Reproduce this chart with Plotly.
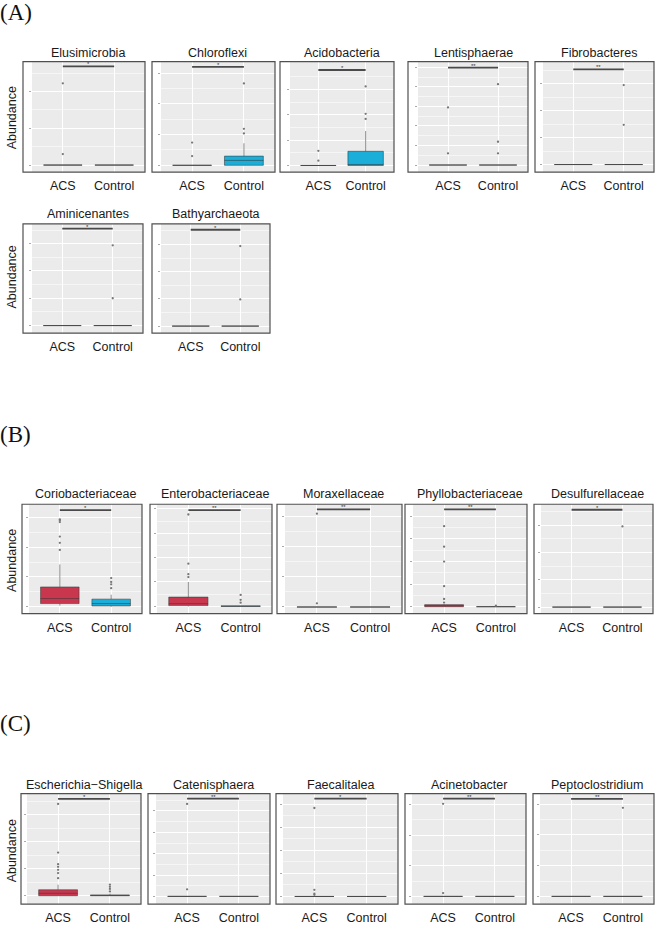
import plotly.graph_objects as go

W, H = 655, 925

# ---------------- data (arbitrary abundance units) ----------------
taxa = ["Elusimicrobia", "Chloroflexi", "Acidobacteria", "Lentisphaerae", "Fibrobacteres",
        "Aminicenantes", "Bathyarchaeota",
        "Coriobacteriaceae", "Enterobacteriaceae", "Moraxellaceae", "Phyllobacteriaceae", "Desulfurellaceae",
        "Escherichia\u2212Shigella", "Catenisphaera", "Faecalitalea", "Acinetobacter", "Peptoclostridium"]
groups = ["ACS", "Control"]
Z = [0, 0, 0, 0, 0]
# [lowerfence, q1, median, q3, upperfence]
acs_box = [Z, Z, Z, Z, Z, Z, Z,
           [0.03, 0.10, 0.27, 0.66, 1.42], [0, 0.03, 0.11, 0.38, 1.0], Z, [0, 0, 0.04, 0.09, 0.12], Z,
           [0, 0, 0.09, 0.22, 0.41], Z, Z, Z, Z]
ctrl_box = [Z, [0, 0, 0.16, 0.30, 0.72], [0, 0, 0.02, 0.56, 1.36], Z, Z, Z, Z,
            [0, 0.02, 0.10, 0.25, 0.40], [0, 0, 0, 0.02, 0.02], Z, Z, Z,
            [0, 0, 0.01, 0.03, 0.08], Z, Z, Z, Z]
acs_out = [[0.30, 2.22], [0.30, 0.74], [0.19, 0.58], [0.6, 2.95], [], [], [],
           [1.91, 2.15, 2.36, 2.85, 2.91, 2.94], [1.2, 1.32, 1.75, 3.77], [0.12, 3.08],
           [0.18, 0.34, 0.91, 2.0, 2.66, 3.57], [],
           [0.65, 0.84, 0.96, 1.07, 1.17, 1.60, 3.40], [0.33, 4.33], [0.07, 0.12, 0.29, 3.84], [0.11, 3.02], []]
ctrl_out = [[], [1.04, 1.19, 2.67], [1.84, 2.04, 3.12], [0.6, 1.19, 4.14], [1.48, 2.96], [1.0, 2.94], [0.98, 2.94],
            [0.62, 0.75, 0.83, 0.96], [0.15, 0.27, 0.47], [], [0.04], [2.95],
            [0.16, 0.25, 0.33, 0.41], [], [], [], [2.88]]
sig_y = [2.68, 3.21, 3.77, 4.98, 3.54, 3.55, 3.54, 3.25, 3.95, 3.22, 4.31, 3.56, 3.59, 4.58, 4.25, 3.19, 3.17]
sig_label = ["*", "*", "*", "**", "**", "*", "*", "*", "**", "**", "**", "*", "*", "**", "*", "**", "**"]
y_min = [-0.19, -0.22, -0.26, -0.36, -0.28, -0.28, -0.26, -0.24, -0.30, -0.22, -0.31, -0.24, -0.31, -0.36, -0.33, -0.25, -0.25]
y_max = [2.81, 3.38, 4.10, 5.29, 3.83, 3.73, 3.76, 3.45, 4.19, 3.39, 4.54, 3.76, 3.78, 4.81, 4.46, 3.35, 3.34]
n_ticks = [3, 4, 4, 6, 4, 4, 4, 4, 5, 4, 5, 4, 4, 5, 5, 4, 4]
section_labels = ["(A)", "(B)", "(C)"]

# ---------------- layout geometry (pixels) ----------------
rows = {"A1": (62, 173, 53), "A2": (225, 335, 215), "B": (507, 617, 497), "C": (798, 909, 789)}
panel_geo = [
    (23, 32, 145, "A1"), (152, 161, 275, "A1"), (280, 290, 394, "A1"), (408, 418, 528, "A1"), (535, 543, 654, "A1"),
    (23, 32, 143, "A2"), (152, 161, 270, "A2"),
    (22, 29, 142, "B"), (150, 157, 272, "B"), (277, 285, 402, "B"), (405, 413, 527, "B"), (534, 541, 653, "B"),
    (21, 27, 141, "C"), (148, 156, 270, "C"), (276, 283, 398, "C"), (405, 412, 526, "C"), (533, 540, 654, "C"),
]

ACS_FILL = "#C9374F"
CTRL_FILL = "#1AAED8"
BOX_LINE = "rgba(55,55,55,0.55)"

fig = go.Figure()
layout = dict(width=W, height=H, margin=dict(l=0, r=0, t=0, b=0),
              paper_bgcolor="white", plot_bgcolor="#EBEBEB", showlegend=False,
              font=dict(family="Liberation Sans, Arial, sans-serif", color="#1a1a1a"))
shapes, annotations = [], []

def px(x):
    return x / W

def py(y):
    return 1 - y / H

for i, name in enumerate(taxa):
    k = i + 1
    xs = "x" if k == 1 else f"x{k}"
    ys = "y" if k == 1 else f"y{k}"
    x0, xs0, x1, row = panel_geo[i]
    top, bot, ty = rows[row]

    for gi, (box, out, fill) in enumerate([(acs_box[i], acs_out[i], ACS_FILL), (ctrl_box[i], ctrl_out[i], CTRL_FILL)]):
        xv = gi + 1
        fig.add_trace(go.Box(x=[xv], lowerfence=[box[0]], q1=[box[1]], median=[box[2]], q3=[box[3]],
                             upperfence=[box[4]], width=0.75, whiskerwidth=0, fillcolor=fill,
                             line=dict(color=BOX_LINE, width=1), boxpoints=False,
                             xaxis=xs, yaxis=ys, hoverinfo="skip"))
        if out:
            fig.add_trace(go.Scatter(x=[xv] * len(out), y=out, mode="markers",
                                     marker=dict(size=2.3, color="#777777"),
                                     xaxis=xs, yaxis=ys, hoverinfo="skip"))
    # significance bar
    fig.add_trace(go.Scatter(x=[1, 2], y=[sig_y[i], sig_y[i]], mode="lines",
                             line=dict(color="#4a4a4a", width=1.8), xaxis=xs, yaxis=ys, hoverinfo="skip"))
    annotations.append(dict(x=1.5, y=sig_y[i], xref=xs, yref=ys, text=sig_label[i], showarrow=False,
                            yanchor="bottom", yshift=-3, font=dict(size=6, color="#333")))

    xa = "xaxis" if k == 1 else f"xaxis{k}"
    ya = "yaxis" if k == 1 else f"yaxis{k}"
    layout[xa] = dict(domain=[px(xs0), px(x1)], range=[0.4, 2.6], anchor=ys,
                      tickmode="array", tickvals=[1, 2], ticktext=groups,
                      ticks="outside", ticklen=2, tickcolor="rgba(0,0,0,0)",
                      tickfont=dict(size=12.5, color="#1a1a1a"),
                      showgrid=True, gridcolor="white", gridwidth=1, zeroline=False, showline=False,
                      fixedrange=True)
    tv = list(range(n_ticks[i]))
    layout[ya] = dict(domain=[py(bot), py(top)], range=[y_min[i], y_max[i]], anchor=xs,
                      tickmode="array", tickvals=tv, showticklabels=False,
                      ticks="outside", ticklen=2, tickcolor="#aaaaaa",
                      showgrid=True, gridcolor="white", gridwidth=1, zeroline=False, showline=False,
                      minor=dict(tickmode="array", tickvals=[v + 0.5 for v in tv], showgrid=True,
                                 gridcolor="rgba(255,255,255,0.55)", gridwidth=0.5, ticks=""),
                      fixedrange=True)
    shapes.append(dict(type="rect", xref="paper", yref="paper", x0=px(x0), x1=px(x1), y0=py(bot), y1=py(top),
                       line=dict(color="#505050", width=1.2), layer="above"))
    annotations.append(dict(x=px((xs0 + x1) / 2), y=py(ty), xref="paper", yref="paper", text=name,
                            showarrow=False, xanchor="center", yanchor="middle",
                            font=dict(size=12.5, color="#1a1a1a")))

for yc in [119, 279, 564, 856]:
    annotations.append(dict(x=px(12), y=py(yc), xref="paper", yref="paper", text="Abundance", textangle=-90,
                            showarrow=False, xanchor="center", yanchor="middle",
                            font=dict(size=12.5, color="#1a1a1a")))

for lab, yc in zip(section_labels, [13, 437, 727]):
    annotations.append(dict(x=0, y=py(yc), xref="paper", yref="paper", text=lab, showarrow=False,
                            xanchor="left", yanchor="middle", xshift=-2,
                            font=dict(size=23, family="Liberation Serif, Times New Roman, serif", color="#111")))

layout["shapes"] = shapes
layout["annotations"] = annotations
fig.update_layout(**layout)
fig.write_html("out.html", config={"displayModeBar": False},
               post_script="document.body.style.margin='0';document.body.style.overflow='hidden';")
